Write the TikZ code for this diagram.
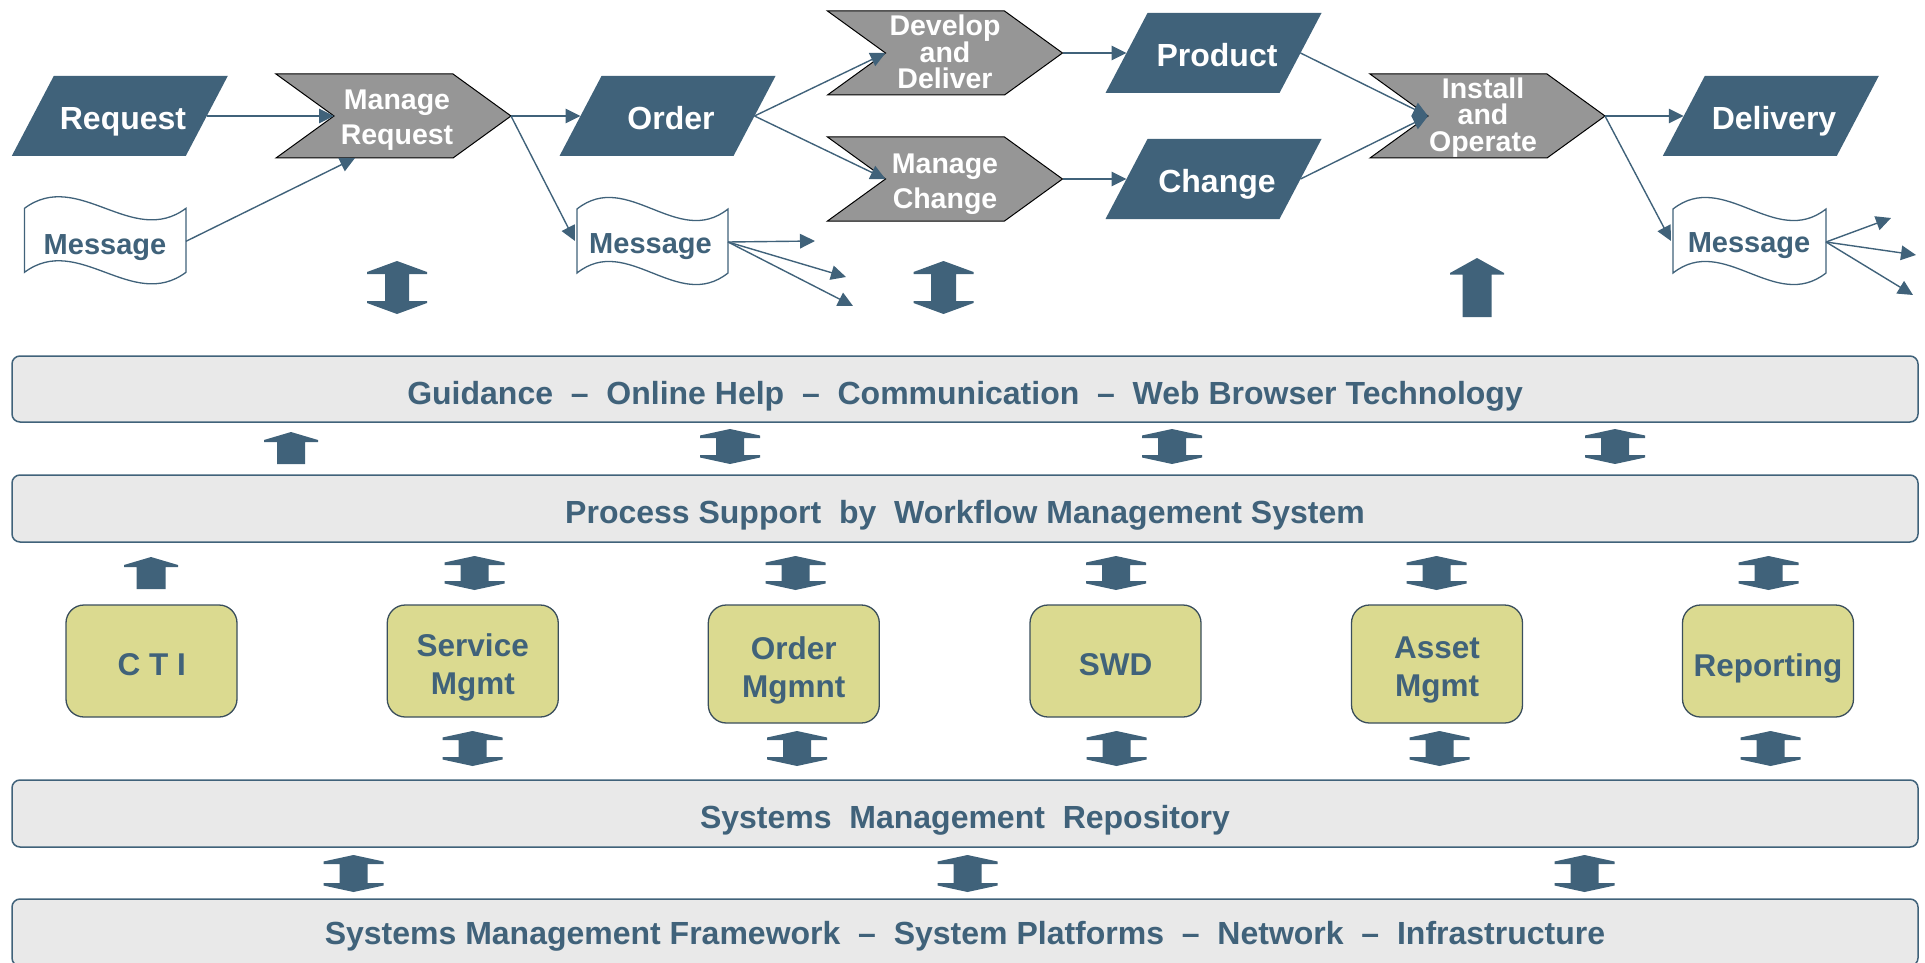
\documentclass[tikz,border=0pt]{standalone}
\usepackage{fontspec}
\setmainfont{Liberation Sans}
\usetikzlibrary{arrows.meta,calc}
\definecolor{slate}{RGB}{64,98,122}
\definecolor{bandfill}{RGB}{233,233,233}
\definecolor{modfill}{RGB}{219,218,144}
\definecolor{modline}{RGB}{58,78,92}
\definecolor{chevfill}{RGB}{150,150,150}

% chevron: name cx cy
\newcommand\chevshape[3]{%
 \path[chevbox] ({#2-117.5},{#3-42}) -- ({#2+59.5},{#3-42}) -- ({#2+117.5},#3) -- ({#2+59.5},{#3+42}) -- ({#2-117.5},{#3+42}) -- ({#2-59.5},#3) -- cycle;
 \coordinate (#1-in) at ({#2-59.5},#3);
 \coordinate (#1-out) at ({#2+117.5},#3);}
% parallelogram: name cx cy
\newcommand\parashape[3]{%
 \path[parabox] ({#2-66},{#3-40}) -- ({#2+108},{#3-40}) -- ({#2+66},{#3+40}) -- ({#2-108},{#3+40}) -- cycle;
 \coordinate (#1-in) at ({#2-87},#3);
 \coordinate (#1-out) at ({#2+87},#3);}
% message (wavy document): name L R T
\newcommand\msgshape[4]{%
 \path[msgbox] (#2,#4) .. controls ({#2+(#3-#2)/3},{#4-40}) and ({#2+2*(#3-#2)/3},{#4+40}) .. (#3,#4)
   -- (#3,{#4+64}) .. controls ({#2+2*(#3-#2)/3},{#4+104}) and ({#2+(#3-#2)/3},{#4+24}) .. (#2,{#4+64}) -- cycle;
 \coordinate (#1-in) at ({#2-2},{#4+32});
 \coordinate (#1-out) at (#3,{#4+33});}
% block double arrow: cx ytop ybot hw sw h1 v
\newcommand\blkdbl[7]{%
 \fill[slate] (#1,#2) -- ({#1+#4},{#2+#6}) -- ({#1+#4},{#2+#6+#7}) -- ({#1+#5},{#2+#6+#7}) -- ({#1+#5},{#3-#6-#7}) -- ({#1+#4},{#3-#6-#7}) -- ({#1+#4},{#3-#6}) -- (#1,#3) -- ({#1-#4},{#3-#6}) -- ({#1-#4},{#3-#6-#7}) -- ({#1-#5},{#3-#6-#7}) -- ({#1-#5},{#2+#6+#7}) -- ({#1-#4},{#2+#6+#7}) -- ({#1-#4},{#2+#6}) -- cycle;}
% block up arrow: cx ytop ybot hw sw h1 v
\newcommand\blkup[7]{%
 \fill[slate] (#1,#2) -- ({#1+#4},{#2+#6}) -- ({#1+#4},{#2+#6+#7}) -- ({#1+#5},{#2+#6+#7}) -- ({#1+#5},#3) -- ({#1-#5},#3) -- ({#1-#5},{#2+#6+#7}) -- ({#1-#4},{#2+#6+#7}) -- ({#1-#4},{#2+#6}) -- cycle;}

\begin{document}
\setlength{\lineskiplimit}{-20pt}
\begin{tikzpicture}[x=1pt,y=-1pt,
  chevbox/.style={fill=chevfill, draw=black, line width=1pt},
  parabox/.style={fill=slate},
  msgbox/.style={fill=white, draw=slate, line width=1.3pt},
  conn/.style={draw=slate, line width=1.4pt, -{Triangle[length=15pt,width=14.5pt]}},
  paratext/.style={text=white, font=\fontsize{32}{38}\selectfont\bfseries, inner sep=0pt},
  chevtext/.style={text=white, font=\fontsize{28.5}{35}\selectfont\bfseries, inner sep=0pt, align=center},
  chevtextB/.style={text=white, font=\fontsize{28.5}{26.5}\selectfont\bfseries, inner sep=0pt, align=center},
  msgtext/.style={text=slate, font=\fontsize{29}{35}\selectfont\bfseries, inner sep=0pt},
  band/.style={rounded corners=8pt, fill=bandfill, draw=slate, line width=1.5pt, minimum width=1906pt, minimum height=66pt, inner sep=0pt, text=slate, font=\fontsize{32}{38}\selectfont\bfseries, text height=30pt, text depth=0pt},
  module/.style={rounded corners=18pt, fill=modfill, draw=modline, line width=1.3pt, minimum width=171pt, minimum height=112pt, inner sep=0pt},
  modtext/.style={text=slate, font=\fontsize{31.5}{38}\selectfont\bfseries, inner sep=0pt, align=center}
]
\useasboundingbox (0,0) rectangle (1925,963);
\clip (0,0) rectangle (1925,963);

% ---------------- process row ----------------
\parashape{request}{119.75}{116}
\node[paratext,anchor=base] (request) at (123,130) {Request};
\chevshape{mreq}{393.5}{116}
\node[chevtext,anchor=north] (mreq) at (397,90) {Manage\\Request};
\parashape{order}{667.5}{116}
\node[paratext,anchor=base] (order) at (671,129.5) {Order};
\chevshape{dev}{945}{53}
\node[chevtextB,anchor=north] (dev) at (945,15) {Develop\\and\\Deliver};
\chevshape{mchg}{945}{179}
\node[chevtext,anchor=north] (mchg) at (945,153.3) {Manage\\Change};
\parashape{product}{1213.5}{53}
\node[paratext,anchor=base] (product) at (1217,66.5) {Product};
\parashape{change}{1213.5}{179}
\node[paratext,anchor=base] (change) at (1217,192.5) {Change};
\chevshape{inst}{1487.5}{116}
\node[chevtextB,anchor=north] (inst) at (1483,77.3) {Install\\and\\Operate};
\parashape{delivery}{1770.75}{116}
\node[paratext,anchor=base] (delivery) at (1774,129.5) {Delivery};

\msgshape{msg1}{24.5}{186}{208.3}
\node[msgtext,anchor=base] (msg1) at (105,254) {Message};
\msgshape{msg2}{577}{728}{209}
\node[msgtext,anchor=base] (msg2) at (650.5,253.3) {Message};
\msgshape{msg3}{1673}{1826}{209}
\node[msgtext,anchor=base] (msg3) at (1749,252) {Message};

\coordinate (mreq-bot) at (355,158);
\coordinate (m2a) at (815,241);
\coordinate (m2b) at (846,277);
\coordinate (m2c) at (853,306);
\coordinate (m3a) at (1891,218);
\coordinate (m3b) at (1916,255);
\coordinate (m3c) at (1913,295);

\draw[conn] (request-out) -- (mreq-in);
\draw[conn] (msg1-out) -- (mreq-bot);
\draw[conn] (mreq-out) -- (order-in);
\draw[conn] (mreq-out) -- (msg2-in);
\draw[conn] (order-out) -- (dev-in);
\draw[conn] (order-out) -- (mchg-in);
\draw[conn] (dev-out) -- (product-in);
\draw[conn] (mchg-out) -- (change-in);
\draw[conn] (product-out) -- (inst-in);
\draw[conn] (change-out) -- (inst-in);
\draw[conn] (inst-out) -- (delivery-in);
\draw[conn] (inst-out) -- (msg3-in);
\draw[conn] (msg2-out) -- (m2a);
\draw[conn] (msg2-out) -- (m2b);
\draw[conn] (msg2-out) -- (m2c);
\draw[conn] (msg3-out) -- (m3a);
\draw[conn] (msg3-out) -- (m3b);
\draw[conn] (msg3-out) -- (m3c);

% block arrows under the process row
\blkdbl{397}{261}{314}{30}{12}{11}{2}
\blkdbl{943.5}{261}{314}{30}{12.5}{11}{2}
\blkup{1477}{258}{317}{27}{14.5}{15}{1.5}

% ---------------- layers ----------------
\node[band] (b1) at (965,389) {Guidance\ \ –\ \ Online Help\ \ –\ \ Communication\ \ –\ \ Web Browser Technology};
\node[band, minimum height=67pt] (b2) at (965,508.5) {Process Support\ \ by\ \ Workflow Management System};
\node[band, minimum height=67pt] (b3) at (965,813.5) {Systems\ \ Management\ \ Repository};
\node[band, minimum height=67pt, text height=24pt] (b4) at (965,932.5) {Systems Management Framework\ \ –\ \ System Platforms\ \ –\ \ Network\ \ –\ \ Infrastructure};

% arrows between band 1 and band 2
\blkup{291}{432}{464}{27}{14}{8}{2}
\blkdbl{730}{429}{464}{30}{14}{6.5}{2.5}
\blkdbl{1172}{429}{464}{30}{14}{6.5}{2.5}
\blkdbl{1615}{429}{464}{30}{14}{6.5}{2.5}

% arrows between band 2 and modules
\blkup{151}{557}{589}{27}{14.5}{8}{2}
\blkdbl{474.5}{556}{590}{30}{14}{6.5}{2.5}
\blkdbl{795.5}{556}{590}{30}{14}{6.5}{2.5}
\blkdbl{1116}{556}{590}{30}{14}{6.5}{2.5}
\blkdbl{1436.5}{556}{590}{30}{14}{6.5}{2.5}
\blkdbl{1768.5}{556}{590}{30}{14}{6.5}{2.5}

% modules
\node[module] (cti) at (151.5,661) {};
\node[modtext,anchor=base] (cti-t) at (151.8,675) {C T I};
\node[module] (svc) at (472.75,661) {};
\node[modtext,anchor=north] (svc-t) at (472.75,633.3) {Service\\Mgmt};
\node[module, minimum height=118pt] (ord) at (793.8,664) {};
\node[modtext,anchor=north] (ord-t) at (793.8,636) {Order\\Mgmnt};
\node[module] (swd) at (1115.5,661) {};
\node[modtext,anchor=base] (swd-t) at (1115.5,675) {SWD};
\node[module, minimum height=118pt] (ast) at (1437,664) {};
\node[modtext,anchor=north] (ast-t) at (1437,636.7) {Asset\\Mgmt};
\node[module] (rep) at (1768,661) {};
\node[modtext,anchor=base] (rep-t) at (1768,676) {Reporting};

% arrows between modules and band 3
\blkdbl{472.5}{731}{766}{30}{14}{6.5}{2.5}
\blkdbl{797}{731}{766}{30}{14}{6.5}{2.5}
\blkdbl{1116.5}{731}{766}{30}{14}{6.5}{2.5}
\blkdbl{1439.5}{731}{766}{30}{14}{6.5}{2.5}
\blkdbl{1770.5}{731}{766}{30}{14}{6.5}{2.5}

% arrows between band 3 and band 4
\blkdbl{353.5}{855}{892}{30}{14}{6.5}{2.5}
\blkdbl{967.5}{855}{892}{30}{14}{6.5}{2.5}
\blkdbl{1584.5}{855}{892}{30}{14}{6.5}{2.5}
\end{tikzpicture}
\end{document}
